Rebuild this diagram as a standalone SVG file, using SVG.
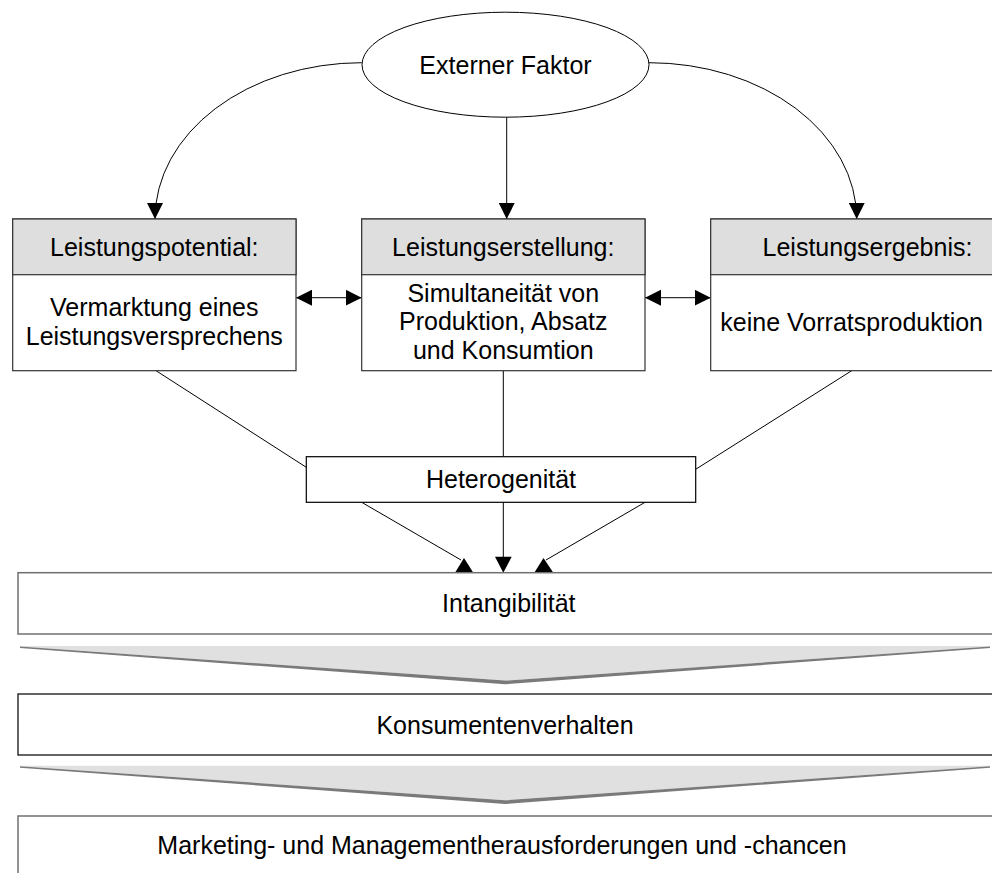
<svg xmlns="http://www.w3.org/2000/svg" width="992" height="873" viewBox="0 0 992 873">
<defs>
<style>
text{font-family:"Liberation Sans",Arial,sans-serif;font-size:25px;fill:#000;text-anchor:middle}
.box{fill:#fff;stroke:#333;stroke-width:1.2}
.hdr{fill:#dedede;stroke:#333;stroke-width:1.2}
.wide{fill:#fff;stroke:#707070;stroke-width:1.5}
.wideb{fill:#fff;stroke:#111;stroke-width:1.3}
.con{fill:none;stroke:#000;stroke-width:1}
.head{fill:#000;stroke:none}
.chev{fill:#e0e0e0;stroke:none}
.chevd{fill:#7a7a7a;stroke:none}
</style>
<marker id="ah" markerUnits="userSpaceOnUse" markerWidth="16" markerHeight="16" refX="16" refY="8" orient="auto-start-reverse" viewBox="0 0 16 16">
<path d="M0,0 L16,8 L0,16 z" fill="#000"/>
</marker>
</defs>
<rect width="992" height="873" fill="#fff"/>

<g id="connectors">
<path class="con" d="M361.7,62.7 A206.7,156.3 0 0 0 155,219" marker-end="url(#ah)"/>
<path class="con" d="M506.7,117 L506.7,219" marker-end="url(#ah)"/>
<path class="con" d="M649,62.7 A207.7,156.3 0 0 1 856.7,219" marker-end="url(#ah)"/>
<path class="con" d="M296,297.7 L361.7,297.7" marker-start="url(#ah)" marker-end="url(#ah)"/>
<path class="con" d="M645,297.7 L710.7,297.7" marker-start="url(#ah)" marker-end="url(#ah)"/>
<path class="con" d="M156,370.7 L306.3,467.3"/>
<path class="con" d="M503.3,370.7 L503.3,456.7"/>
<path class="con" d="M851.7,370.7 L695.7,469.3"/>
<path class="con" d="M361.7,502.3 L461,560"/>
<path class="con" d="M503.3,502.3 L503.3,560"/>
<path class="con" d="M645,502.3 L546,560"/>
<polygon class="head" points="464,558 455,572.7 473.3,572.7"/>
<polygon class="head" points="495,556.7 511.7,556.7 503.3,572.7"/>
<polygon class="head" points="543.5,558 534.3,572.7 553.3,572.7"/>
</g>

<g id="externer-faktor">
<ellipse cx="505.5" cy="64.7" rx="143.5" ry="52.5" fill="#fff" stroke="#000" stroke-width="1"/>
<text x="505.5" y="73.5">Externer Faktor</text>
</g>

<g id="leistungspotential">
<rect class="box" x="12.7" y="219" width="283.3" height="151.7"/>
<rect class="hdr" x="12.7" y="219" width="283.3" height="55.7"/>
<text x="154.3" y="256">Leistungspotential:</text>
<text x="154.3" y="316">Vermarktung eines</text>
<text x="154.3" y="345">Leistungsversprechens</text>
</g>

<g id="leistungserstellung">
<rect class="box" x="361.7" y="219" width="283.3" height="151.7"/>
<rect class="hdr" x="361.7" y="219" width="283.3" height="55.7"/>
<text x="503.3" y="256">Leistungserstellung:</text>
<text x="503.3" y="301.7">Simultaneität von</text>
<text x="503.3" y="330">Produktion, Absatz</text>
<text x="503.3" y="358.5">und Konsumtion</text>
</g>

<g id="leistungsergebnis">
<rect class="box" x="710.7" y="219" width="300" height="151.7"/>
<rect class="hdr" x="710.7" y="219" width="300" height="55.7"/>
<text x="867.5" y="256">Leistungsergebnis:</text>
<text x="851.7" y="330.7">keine Vorratsproduktion</text>
</g>

<g id="heterogenitaet">
<rect class="box" x="306.3" y="456.7" width="389.4" height="45.6" style="stroke:#000"/>
<text x="501" y="488">Heterogenität</text>
</g>

<g id="intangibilitaet">
<rect class="wide" x="18" y="572.7" width="990" height="61.3"/>
<text x="508.8" y="611.5">Intangibilität</text>
</g>

<g id="chevron-1">
<polygon class="chev" points="20,646 990,646 990,646.6 505,680.6 20,646.6"/>
<polygon class="chevd" points="20,646.6 505,680.6 990,646.6 990,648 505,684.3 20,648"/>
</g>

<g id="konsumentenverhalten">
<rect class="wideb" x="18" y="694" width="990" height="61"/>
<text x="505" y="733.5">Konsumentenverhalten</text>
</g>

<g id="chevron-2">
<polygon class="chev" points="20,765.7 990,765.7 990,766.3 505,800.3 20,766.3"/>
<polygon class="chevd" points="20,766.3 505,800.3 990,766.3 990,767.7 505,804 20,767.7"/>
</g>

<g id="herausforderungen">
<rect class="wide" x="18" y="816" width="990" height="80"/>
<text x="502" y="853.5">Marketing- und Managementherausforderungen und -chancen</text>
</g>
</svg>
